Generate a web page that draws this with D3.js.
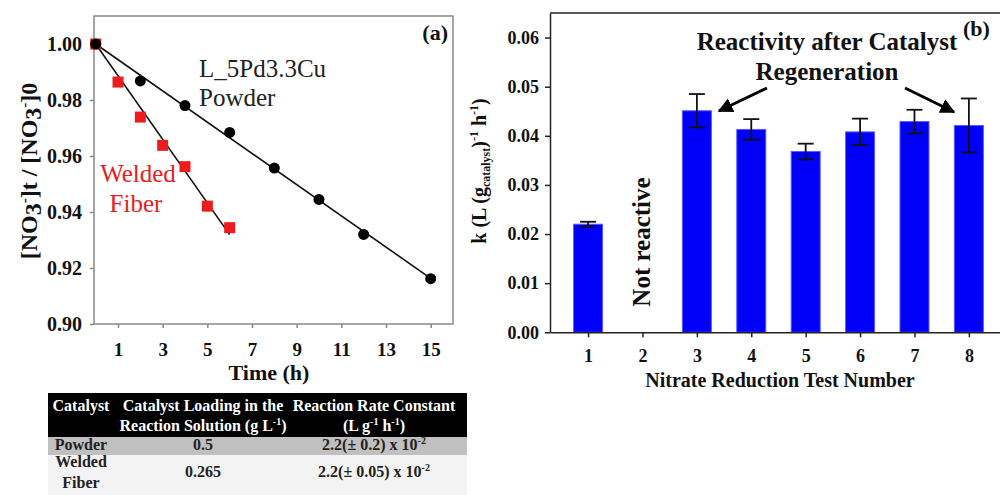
<!DOCTYPE html>
<html>
<head>
<meta charset="utf-8">
<script src="https://cdn.jsdelivr.net/npm/d3@7"></script>
<style>
  body { margin: 0; background: #fff; }
  svg text { font-family: "Liberation Serif", serif; }
</style>
</head>
<body>
<svg id="fig" width="1000" height="495"></svg>
<script>
// panel (a) data
const powderTime = [0, 2, 4, 6, 8, 10, 12, 15];
const powderRatio = [1.000, 0.9868, 0.9780, 0.9684, 0.9557, 0.9445, 0.9320, 0.9162];
const fiberTime = [0, 1, 2, 3, 4, 5, 6];
const fiberRatio = [1.000, 0.9864, 0.9739, 0.9638, 0.9562, 0.9421, 0.9344];
const timeTicks = [1, 3, 5, 7, 9, 11, 13, 15];
const ratioTicks = [0.90, 0.92, 0.94, 0.96, 0.98, 1.00];

// panel (b) data
const testNumbers = [1, 2, 3, 4, 5, 6, 7, 8];
const rateK = [0.0220, null, 0.0451, 0.0413, 0.0368, 0.0408, 0.0429, 0.0421];
const rateErr = [0.0005, null, 0.0034, 0.0021, 0.0016, 0.0027, 0.0024, 0.0055];
const kTicks = [0, 0.01, 0.02, 0.03, 0.04, 0.05, 0.06];

// table data
const tableHead1 = ["Catalyst", "Catalyst Loading in the", "Reaction Rate Constant"];
const tableCatalyst = ["Powder", "Welded Fiber"];
const tableLoading = ["0.5", "0.265"];
const tableRate = ["2.2(\u00b1 0.2) x 10", "2.2(\u00b1 0.05) x 10"];

const red = "#ec1c1c";
const serif = "'Liberation Serif', serif";
const svg = d3.select("#fig");

// ---------- panel (a) ----------
const xA = d3.scaleLinear().domain([-0.075, 16]).range([94, 453]);
const yA = d3.scaleLinear().domain([0.90, 1.01]).range([324, 16]);

const gA = svg.append("g");

gA.append("g")
  .attr("transform", "translate(94,0)")
  .call(d3.axisLeft(yA).tickValues(ratioTicks).tickSize(4).tickPadding(8).tickFormat(d3.format(".2f")))
  .call(g => g.select(".domain").remove())
  .call(g => g.selectAll("line").attr("stroke", "#888").attr("stroke-width", 1.5))
  .call(g => g.selectAll("text").attr("font-size", 20).attr("font-weight", "bold").attr("fill", "#111"));

gA.append("g")
  .attr("transform", "translate(0,324)")
  .call(d3.axisBottom(xA).tickValues(timeTicks).tickSize(4).tickPadding(15))
  .call(g => g.select(".domain").remove())
  .call(g => g.selectAll("line").attr("stroke", "#888").attr("stroke-width", 1.5))
  .call(g => g.selectAll("text").attr("font-size", 19).attr("font-weight", "bold").attr("fill", "#111"));

gA.append("rect")
  .attr("x", 94).attr("y", 16).attr("width", 359).attr("height", 308)
  .attr("fill", "none").attr("stroke", "#888").attr("stroke-width", 1.5);

// linear fit forced through (0, 1)
function fitSlope(ts, ys) {
  const num = d3.sum(ts, (t, i) => t * (ys[i] - 1));
  const den = d3.sum(ts, t => t * t);
  return num / den;
}
const fitLine = d3.line().x(d => xA(d[0])).y(d => yA(d[1]));
[[powderTime, powderRatio], [fiberTime, fiberRatio]].forEach(([ts, ys]) => {
  const s = fitSlope(ts, ys);
  const tEnd = d3.max(ts);
  gA.append("path")
    .attr("d", fitLine([[0, 1], [tEnd, 1 + s * tEnd]]))
    .attr("stroke", "#111").attr("stroke-width", 1.6).attr("fill", "none");
});

gA.selectAll(".sq").data(fiberTime).enter().append("rect")
  .attr("x", (d) => xA(d) - 5.5)
  .attr("y", (d, i) => yA(fiberRatio[i]) - 5.5)
  .attr("width", 11).attr("height", 11)
  .attr("fill", red);

gA.selectAll(".dot").data(powderTime).enter().append("circle")
  .attr("cx", (d) => xA(d))
  .attr("cy", (d, i) => yA(powderRatio[i]))
  .attr("r", 5.5)
  .attr("fill", "#000");

gA.append("text").attr("x", 199).attr("y", 77).attr("font-size", 25).attr("fill", "#222").text("L_5Pd3.3Cu");
gA.append("text").attr("x", 199).attr("y", 106).attr("font-size", 25).attr("fill", "#222").text("Powder");
gA.append("text").attr("x", 138).attr("y", 182).attr("font-size", 25).attr("fill", red)
  .attr("text-anchor", "middle").text("Welded");
gA.append("text").attr("x", 136).attr("y", 212).attr("font-size", 25).attr("fill", red)
  .attr("text-anchor", "middle").text("Fiber");

gA.append("text").attr("x", 448).attr("y", 40).attr("text-anchor", "end")
  .attr("font-size", 22).attr("font-weight", "bold").attr("fill", "#111").text("(a)");

gA.append("text").attr("x", 269).attr("y", 380).attr("text-anchor", "middle")
  .attr("font-size", 22).attr("font-weight", "bold").attr("fill", "#111").text("Time (h)");

// y label of (a)
const yLabA = gA.append("text")
  .attr("transform", "translate(37,171) rotate(-90)")
  .attr("text-anchor", "middle")
  .attr("font-size", 24).attr("font-weight", "bold").attr("fill", "#111");
yLabA.append("tspan").text("[NO");
yLabA.append("tspan").attr("dy", 4).text("3");
yLabA.append("tspan").attr("dy", -12).attr("font-size", 15).text("-");
yLabA.append("tspan").attr("dy", 8).text("]t / [NO");
yLabA.append("tspan").attr("dy", 4).text("3");
yLabA.append("tspan").attr("dy", -12).attr("font-size", 15).text("-");
yLabA.append("tspan").attr("dy", 8).text("]0");

// ---------- table ----------
const gT = svg.append("g").attr("font-weight", "bold");
const colX = [81, 203, 374];
gT.append("rect").attr("x", 48).attr("y", 393).attr("width", 419).attr("height", 44).attr("fill", "#000");
gT.append("rect").attr("x", 48).attr("y", 437).attr("width", 419).attr("height", 18).attr("fill", "#c0c0c0");
gT.append("rect").attr("x", 48).attr("y", 455).attr("width", 419).attr("height", 40).attr("fill", "#f3f3f3");

tableHead1.forEach((t, i) => {
  gT.append("text").attr("x", colX[i]).attr("y", 411).attr("text-anchor", "middle")
    .attr("font-size", 16).attr("fill", "#fff").text(t);
});
const h2 = gT.append("text").attr("x", colX[1]).attr("y", 431).attr("text-anchor", "middle")
  .attr("font-size", 16).attr("fill", "#fff");
h2.append("tspan").text("Reaction Solution (g L");
h2.append("tspan").attr("dy", -6).attr("font-size", 10).text("-1");
h2.append("tspan").attr("dy", 6).text(")");
const h3 = gT.append("text").attr("x", colX[2]).attr("y", 431).attr("text-anchor", "middle")
  .attr("font-size", 16).attr("fill", "#fff");
h3.append("tspan").text("(L g");
h3.append("tspan").attr("dy", -6).attr("font-size", 10).text("-1");
h3.append("tspan").attr("dy", 6).text(" h");
h3.append("tspan").attr("dy", -6).attr("font-size", 10).text("-1");
h3.append("tspan").attr("dy", 6).text(")");

const rowBase = [450, 477];
tableCatalyst.forEach((c, i) => {
  const words = c.split(" ");
  if (words.length == 1) {
    gT.append("text").attr("x", colX[0]).attr("y", rowBase[i]).attr("text-anchor", "middle")
      .attr("font-size", 16).attr("fill", "#222").text(c);
  } else {
    gT.append("text").attr("x", colX[0]).attr("y", rowBase[i] - 10).attr("text-anchor", "middle")
      .attr("font-size", 16).attr("fill", "#222").text(words[0]);
    gT.append("text").attr("x", colX[0]).attr("y", rowBase[i] + 11).attr("text-anchor", "middle")
      .attr("font-size", 16).attr("fill", "#222").text(words[1]);
  }
  gT.append("text").attr("x", colX[1]).attr("y", rowBase[i]).attr("text-anchor", "middle")
    .attr("font-size", 16).attr("fill", "#222").text(tableLoading[i]);
  const r = gT.append("text").attr("x", colX[2]).attr("y", rowBase[i]).attr("text-anchor", "middle")
    .attr("font-size", 16).attr("fill", "#222");
  r.append("tspan").text(tableRate[i]);
  r.append("tspan").attr("dy", -6).attr("font-size", 10).text("-2");
});

// ---------- panel (b) ----------
const xB = d3.scaleLinear().domain([0.3, 9]).range([550, 550 + 8.7 * 54.4]);
const yB = d3.scaleLinear().domain([0, 0.065]).range([332.3, 13]);
const barW = 29;

const gB = svg.append("g");

gB.append("line").attr("x1", 550).attr("x2", 1000).attr("y1", 13).attr("y2", 13)
  .attr("stroke", "#222").attr("stroke-width", 1.5);

const bars = gB.selectAll(".bar")
  .data(testNumbers.filter((d, i) => rateK[i] != null))
  .enter().append("g");

bars.append("rect")
  .attr("x", d => xB(d) - barW / 2)
  .attr("y", d => yB(rateK[d - 1]))
  .attr("width", barW)
  .attr("height", d => yB(0) - yB(rateK[d - 1]))
  .attr("fill", "#0000fa").attr("stroke", "#5a5aff").attr("stroke-width", 1);

bars.append("line")
  .attr("x1", d => xB(d)).attr("x2", d => xB(d))
  .attr("y1", d => yB(rateK[d - 1] - rateErr[d - 1]))
  .attr("y2", d => yB(rateK[d - 1] + rateErr[d - 1]))
  .attr("stroke", "#111").attr("stroke-width", 1.8);
[-1, 1].forEach(sign => {
  bars.append("line")
    .attr("x1", d => xB(d) - 8).attr("x2", d => xB(d) + 8)
    .attr("y1", d => yB(rateK[d - 1] + sign * rateErr[d - 1]))
    .attr("y2", d => yB(rateK[d - 1] + sign * rateErr[d - 1]))
    .attr("stroke", "#111").attr("stroke-width", 1.8);
});

gB.append("g")
  .attr("transform", "translate(550,0)")
  .call(d3.axisLeft(yB).tickValues(kTicks).tickSize(5).tickSizeOuter(0).tickPadding(6).tickFormat(d3.format(".2f")))
  .call(g => g.select(".domain").attr("stroke", "#222").attr("stroke-width", 1.5))
  .call(g => g.selectAll("line").attr("stroke", "#222").attr("stroke-width", 1.5))
  .call(g => g.selectAll("text").attr("font-size", 18).attr("font-weight", "bold").attr("fill", "#111"));

gB.append("g")
  .attr("transform", "translate(0,332.3)")
  .call(d3.axisBottom(xB).tickValues(testNumbers).tickSize(5).tickSizeOuter(0).tickPadding(12).tickFormat(d3.format("d")))
  .call(g => g.select(".domain").attr("stroke", "#222").attr("stroke-width", 1.5))
  .call(g => g.selectAll("line").attr("stroke", "#222").attr("stroke-width", 1.5))
  .call(g => g.selectAll("text").attr("font-size", 18).attr("font-weight", "bold").attr("fill", "#111"));

gB.append("text").attr("x", 780).attr("y", 387).attr("text-anchor", "middle")
  .attr("font-size", 20).attr("font-weight", "bold").attr("fill", "#111")
  .text("Nitrate Reduction Test Number");

// y label of (b)
const yLabB = gB.append("text")
  .attr("transform", "translate(486,171) rotate(-90)")
  .attr("text-anchor", "middle")
  .attr("font-size", 20).attr("font-weight", "bold").attr("fill", "#111");
yLabB.append("tspan").text("k (L (g");
yLabB.append("tspan").attr("dy", 4).attr("font-size", 12).text("catalyst");
yLabB.append("tspan").attr("dy", -4).text(")");
yLabB.append("tspan").attr("dy", -8).attr("font-size", 12).text("-1");
yLabB.append("tspan").attr("dy", 8).text(" h");
yLabB.append("tspan").attr("dy", -8).attr("font-size", 12).text("-1");
yLabB.append("tspan").attr("dy", 8).text(")");

gB.append("text")
  .attr("transform", `translate(${xB(2) - 1},242) rotate(-90)`)
  .attr("text-anchor", "middle").attr("dy", "0.35em")
  .attr("font-size", 25).attr("font-weight", "bold").attr("fill", "#111")
  .text("Not reactive");

gB.append("text").attr("x", 827).attr("y", 50).attr("text-anchor", "middle")
  .attr("font-size", 25).attr("font-weight", "bold").attr("fill", "#111")
  .text("Reactivity after Catalyst");
gB.append("text").attr("x", 827).attr("y", 80).attr("text-anchor", "middle")
  .attr("font-size", 25).attr("font-weight", "bold").attr("fill", "#111")
  .text("Regeneration");

gB.append("text").attr("x", 963).attr("y", 36)
  .attr("font-size", 22).attr("font-weight", "bold").attr("fill", "#111").text("(b)");

// arrows
svg.append("defs").append("marker")
  .attr("id", "ah").attr("viewBox", "0 0 10 10")
  .attr("refX", 9).attr("refY", 5)
  .attr("markerWidth", 5).attr("markerHeight", 5)
  .attr("markerUnits", "strokeWidth")
  .attr("orient", "auto")
  .append("path").attr("d", "M0,0 L10,5 L0,10 Z").attr("fill", "#000");

gB.append("line").attr("x1", 767).attr("y1", 88).attr("x2", 719).attr("y2", 111)
  .attr("stroke", "#000").attr("stroke-width", 3).attr("marker-end", "url(#ah)");
gB.append("line").attr("x1", 905).attr("y1", 88).attr("x2", 954).attr("y2", 112)
  .attr("stroke", "#000").attr("stroke-width", 3).attr("marker-end", "url(#ah)");

// every label in the serif face
svg.selectAll("text").style("font-family", serif);
</script>
</body>
</html>
